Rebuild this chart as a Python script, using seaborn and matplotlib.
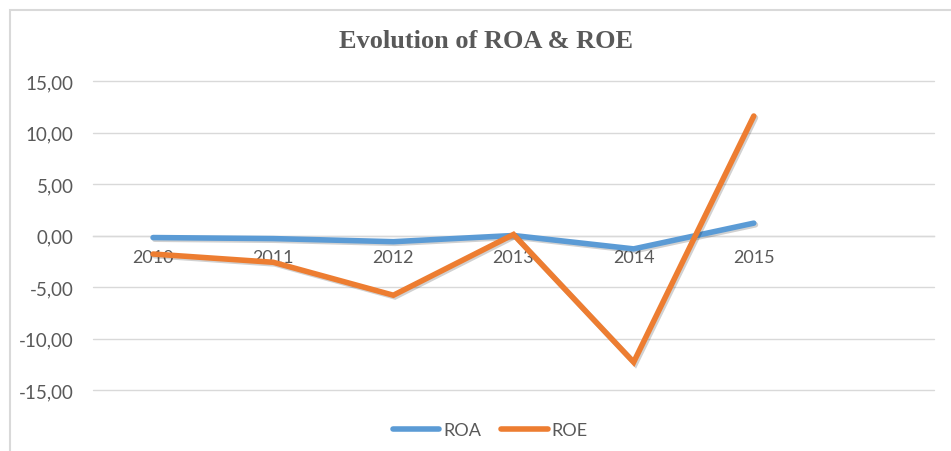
import numpy as np
import pandas as pd
import matplotlib.pyplot as plt
import matplotlib.patheffects as pe
from matplotlib.patches import Rectangle
from matplotlib.ticker import FixedLocator, FuncFormatter
import seaborn as sns

years = ["2010", "2011", "2012", "2013", "2014", "2015"]
roa = [-0.2, -0.3, -0.6, 0.0, -1.3, 1.2]
roe = [-1.8, -2.6, -5.8, 0.1, -12.3, 11.6]
y_ticks = [-15, -10, -5, 0, 5, 10, 15]

df = pd.DataFrame({"year": years * 2,
                   "value": roa + roe,
                   "series": ["ROA"] * len(years) + ["ROE"] * len(years)})

sns.set_theme(style="white")
plt.rcParams["font.family"] = ["Lato", "DejaVu Sans"]
txt = "#595959"
grid = "#D9D9D9"

fig = plt.figure(figsize=(9.51, 4.52), dpi=100)
ax = fig.add_axes([93 / 951, 1 - 391 / 452, (934 - 93) / 951, (391 - 82) / 452])

shadow = [pe.SimpleLineShadow(offset=(1.2, -1.2), alpha=0.18, shadow_color="black"), pe.Normal()]
sns.lineplot(data=df, x="year", y="value", hue="series",
             palette={"ROA": "#5B9BD5", "ROE": "#ED7D31"},
             linewidth=4, ax=ax, legend=False, sort=False)
for ln in ax.lines:
    ln.set_path_effects(shadow)
    ln.set_solid_capstyle("round")
    ln.set_solid_joinstyle("miter")
    ln.set_clip_on(False)

ax.set_xlim(-0.5, 6.5)
ax.set_ylim(-15, 15)
ax.set_yticks(y_ticks)
ax.yaxis.set_major_formatter(FuncFormatter(lambda v, p: f"{v:.2f}".replace(".", ",")))
ax.grid(axis="y", color=grid, linewidth=1)
for gl in ax.get_ygridlines():
    gl.set_clip_on(False)
ax.set_axisbelow(True)
ax.set_xlabel("")
ax.set_ylabel("")

for s in ["top", "right", "left"]:
    ax.spines[s].set_visible(False)
ax.spines["bottom"].set_position(("data", 0))
ax.spines["bottom"].set_color(grid)
ax.spines["bottom"].set_linewidth(1)
ax.spines["bottom"].set_zorder(1)

ax.set_xticks(range(len(years)))
ax.set_xticklabels(years)
ax.xaxis.set_minor_locator(FixedLocator(np.arange(-0.5, 7, 1.0)))
ax.tick_params(axis="x", which="major", length=0, pad=10, labelsize=13, labelcolor=txt)
ax.tick_params(axis="x", which="minor", length=5, width=1, color=grid, direction="out")
ax.tick_params(axis="y", length=0, pad=14, labelsize=13.5, labelcolor=txt)

fig.text(486 / 951, 1 - 42 / 452, "Evolution of ROA & ROE", ha="center", va="center",
         fontsize=19, fontweight="bold", color=txt, family="Liberation Serif")

handles = [plt.Line2D([], [], color="#5B9BD5", linewidth=4, solid_capstyle="round"),
           plt.Line2D([], [], color="#ED7D31", linewidth=4, solid_capstyle="round")]
leg = fig.legend(handles, ["ROA", "ROE"], loc="center", ncol=2,
                 bbox_to_anchor=(490 / 951, 1 - 431 / 452), frameon=False,
                 fontsize=13, handlelength=2.6, handletextpad=0.2, columnspacing=1.1)
for t in leg.get_texts():
    t.set_color(txt)

fig.patches.append(Rectangle((10 / 951, -0.1), 1.1, 1 - 11 / 452 + 0.1, transform=fig.transFigure,
                             fill=False, edgecolor="#D9D9D9", linewidth=1.5, zorder=-1))

fig.savefig("out.png", dpi=100)
